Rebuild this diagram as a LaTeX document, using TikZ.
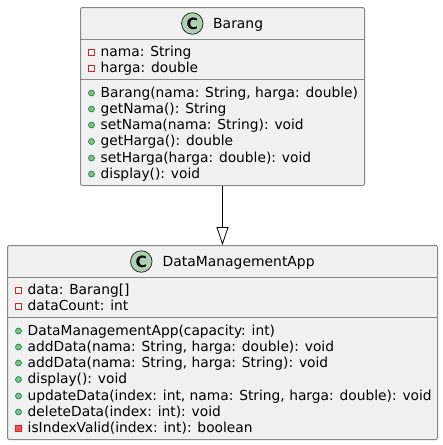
\documentclass[tikz,border=0pt]{standalone}
\usepackage{fontspec}
\setmainfont{DejaVu Sans}
\usetikzlibrary{arrows.meta}

\definecolor{boxfill}{HTML}{F1F1F1}
\definecolor{boxline}{HTML}{868686}
\definecolor{spotline}{HTML}{303030}
\definecolor{spotfill}{HTML}{ADD1B2}
\definecolor{pubfill}{HTML}{84BE84}
\definecolor{publine}{HTML}{038048}
\definecolor{privfill}{HTML}{F24D5C}
\definecolor{privline}{HTML}{C82930}

\tikzset{
    classbox/.style={draw=boxline, fill=boxfill, line width=1pt, rounded corners=2pt, inner sep=0pt},
    divider/.style={draw=boxline, line width=1pt},
    spot/.style={circle, draw=spotline, fill=spotfill, line width=0.8pt, minimum size=21.5pt, inner sep=0pt, font=\fontsize{15.5}{15.5}\selectfont\bfseries},
    title/.style={anchor=base west, inner sep=0pt, text=black, font=\fontsize{13.9}{16}\selectfont},
    member/.style={anchor=base west, inner sep=0pt, text=black, font=\fontsize{13.8}{16}\selectfont},
    pubmark/.style={circle, draw=publine, fill=pubfill, line width=0.6pt, minimum size=6pt, inner sep=0pt},
    privmark/.style={rectangle, draw=privline, line width=0.8pt, minimum size=6pt, inner sep=0pt},
    privmethod/.style={rectangle, draw=privline, fill=privfill, line width=0.8pt, minimum size=6pt, inner sep=0pt},
    extends/.style={draw=black, line width=0.8pt, -{Triangle[open, length=18pt, width=12pt]}}
}

\begin{document}
\begin{tikzpicture}[x=1pt, y=-1pt]
    \useasboundingbox (0,0) rectangle (443,445);

    % upper class
    \node[classbox, minimum width=284pt, minimum height=178pt] (barang) at (222.5,96.5) {};
    \node[spot] (barangspot) at (192.3,23.5) {C};
    \node[title] (barangtitle) at (213,28.5) {Barang};
    \draw[divider] (barang.west |- 0,39.5) coordinate (b1) -- (barang.east |- 0,39.5) coordinate (b2);
    \draw[divider] (barang.west |- 0,79.5) coordinate (b3) -- (barang.east |- 0,79.5) coordinate (b4);

    \foreach \i/\y/\t in {1/56.5/{nama: String}, 2/72.5/{harga: double}} {
        \node[privmark] (bf\i) at (91.5,\y-4) {};
        \node[member] (bft\i) at (100.5,\y) {\t};
    }
    \foreach \i/\y/\t in {1/97/{Barang(nama: String, harga: double)},
                          2/113/{getNama(): String},
                          3/129/{setNama(nama: String): void},
                          4/145.5/{getHarga(): double},
                          5/162/{setHarga(harga: double): void},
                          6/178/{display(): void}} {
        \node[pubmark] (bm\i) at (91.5,\y-4) {};
        \node[member] (bmt\i) at (100.5,\y) {\t};
    }

    % lower class
    \node[classbox, minimum width=430pt, minimum height=194pt] (app) at (222.5,342.5) {};
    \node[spot] (appspot) at (141.3,261.5) {C};
    \node[title] (apptitle) at (162.5,266) {DataManagementApp};
    \draw[divider] (app.west |- 0,277.5) coordinate (a1) -- (app.east |- 0,277.5) coordinate (a2);
    \draw[divider] (app.west |- 0,317.5) coordinate (a3) -- (app.east |- 0,317.5) coordinate (a4);

    \foreach \i/\y/\t in {1/294.5/{data: Barang[]}, 2/310.5/{dataCount: int}} {
        \node[privmark] (af\i) at (18.5,\y-4) {};
        \node[member] (aft\i) at (27.5,\y) {\t};
    }
    \foreach \i/\y/\t in {1/335/{DataManagementApp(capacity: int)},
                          2/351/{addData(nama: String, harga: double): void},
                          3/367/{addData(nama: String, harga: String): void},
                          4/383.5/{display(): void},
                          5/400/{updateData(index: int, nama: String, harga: double): void},
                          6/416/{deleteData(index: int): void}} {
        \node[pubmark] (am\i) at (18.5,\y-4) {};
        \node[member] (amt\i) at (27.5,\y) {\t};
    }
    \node[privmethod] (am7) at (18.5,428) {};
    \node[member] (amt7) at (27.5,432) {isIndexValid(index: int): boolean};

    \draw[extends] (barang) -- (app);
\end{tikzpicture}
\end{document}
